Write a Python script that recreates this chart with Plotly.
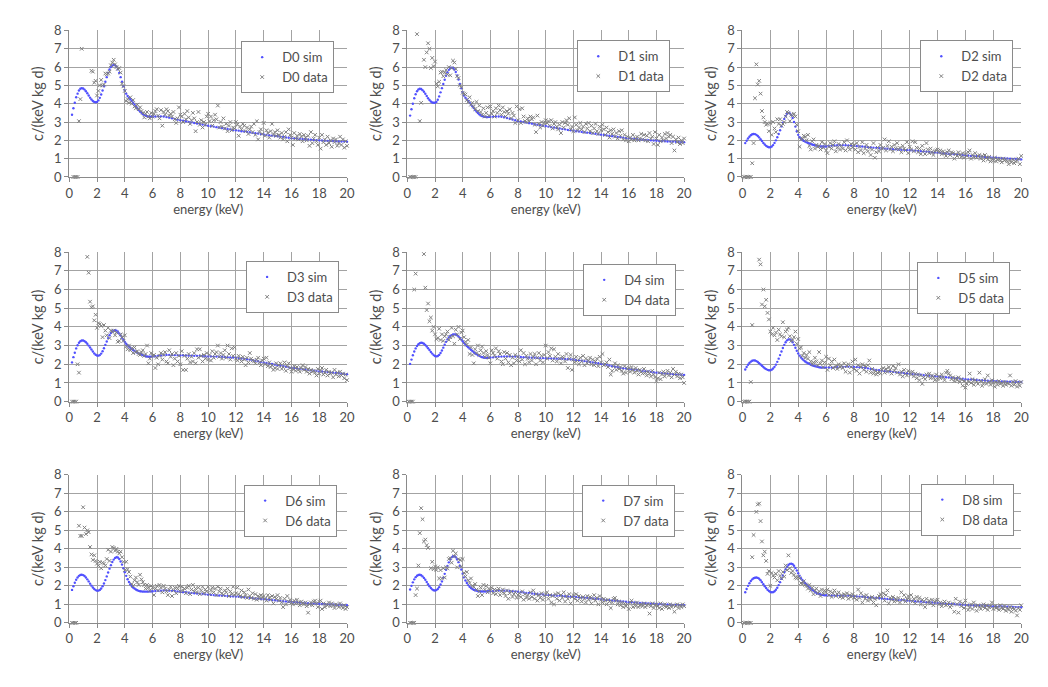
import plotly.graph_objects as go

# energy bins (keV)
E_SIM = [round(0.2 + 0.1 * i, 1) for i in range(59)] + [round(6.2 + 0.2 * i, 1) for i in range(70)]
E_DATA = [round(0.1 * (i + 1), 1) for i in range(200)]

DETECTORS = ["D0", "D1", "D2", "D3", "D4", "D5", "D6", "D7", "D8"]

N = None

SIM_D0 = [3.40,3.75,4.05,4.35,4.55,4.72,4.82,4.85,4.83,4.77,
          4.68,4.57,4.45,4.33,4.23,4.15,4.10,4.08,4.10,4.18,
          4.32,4.50,4.72,4.95,5.20,5.45,5.68,5.87,6.00,6.08,
          6.12,6.10,6.02,5.88,5.68,5.45,5.20,4.95,4.72,4.55,
          4.42,4.32,4.24,4.15,4.05,3.95,3.85,3.75,3.65,3.57,
          3.50,3.44,3.39,3.35,3.32,3.30,3.29,3.29,3.30,
          3.30,3.31,3.31,3.30,3.27,3.24,3.20,3.17,3.13,3.10,
          3.07,3.04,3.01,2.98,2.95,2.92,2.89,2.86,2.83,2.80,
          2.77,2.75,2.72,2.70,2.67,2.65,2.62,2.60,2.57,2.55,
          2.53,2.50,2.48,2.46,2.44,2.41,2.39,2.37,2.34,2.32,
          2.30,2.28,2.26,2.24,2.22,2.20,2.18,2.16,2.14,2.12,
          2.11,2.10,2.08,2.07,2.06,2.05,2.04,2.02,2.01,2.00,
          1.99,1.98,1.97,1.97,1.96,1.95,1.94,1.93,1.93,1.92]
SIM_D1 = [3.35,3.70,4.00,4.30,4.52,4.68,4.78,4.82,4.80,4.74,
          4.65,4.54,4.42,4.30,4.20,4.12,4.07,4.05,4.05,4.10,
          4.22,4.40,4.62,4.85,5.08,5.31,5.53,5.72,5.85,5.94,
          5.97,5.95,5.87,5.73,5.54,5.32,5.08,4.84,4.62,4.45,
          4.33,4.23,4.15,4.06,3.96,3.86,3.76,3.66,3.57,3.49,
          3.42,3.37,3.33,3.30,3.28,3.27,3.27,3.28,3.29,
          3.29,3.30,3.30,3.29,3.26,3.22,3.18,3.14,3.10,3.06,
          3.03,3.00,2.97,2.94,2.91,2.88,2.85,2.83,2.80,2.78,
          2.75,2.72,2.70,2.67,2.65,2.62,2.60,2.57,2.55,2.52,
          2.50,2.48,2.46,2.44,2.42,2.40,2.38,2.36,2.33,2.31,
          2.29,2.27,2.25,2.23,2.21,2.19,2.17,2.15,2.13,2.11,
          2.09,2.08,2.06,2.05,2.04,2.02,2.01,2.00,1.99,1.98,
          1.97,1.96,1.95,1.94,1.93,1.93,1.92,1.91,1.90,1.90]
SIM_D2 = [1.85,1.98,2.10,2.20,2.28,2.33,2.35,2.34,2.30,2.24,
          2.16,2.06,1.96,1.86,1.77,1.70,1.65,1.62,1.62,1.66,
          1.74,1.86,2.00,2.17,2.35,2.55,2.76,2.97,3.17,3.33,
          3.45,3.50,3.47,3.38,3.22,3.00,2.75,2.50,2.30,2.17,
          2.08,2.02,1.97,1.93,1.89,1.86,1.83,1.80,1.77,1.75,
          1.73,1.71,1.69,1.68,1.67,1.66,1.66,1.66,1.67,
          1.68,1.70,1.72,1.73,1.74,1.74,1.73,1.72,1.71,1.70,
          1.69,1.67,1.66,1.65,1.63,1.62,1.60,1.59,1.57,1.56,
          1.55,1.54,1.53,1.52,1.51,1.50,1.49,1.48,1.47,1.46,
          1.45,1.44,1.42,1.41,1.40,1.38,1.37,1.35,1.34,1.32,
          1.31,1.29,1.28,1.27,1.25,1.24,1.22,1.21,1.19,1.18,
          1.17,1.15,1.14,1.13,1.12,1.11,1.09,1.08,1.07,1.06,
          1.05,1.04,1.03,1.02,1.01,1.00,0.99,0.98,0.97,0.96]
SIM_D3 = [2.10,2.38,2.62,2.85,3.02,3.15,3.23,3.27,3.27,3.24,
          3.18,3.10,3.00,2.90,2.79,2.68,2.58,2.51,2.47,2.46,
          2.49,2.57,2.70,2.86,3.04,3.22,3.40,3.55,3.67,3.75,
          3.80,3.82,3.80,3.74,3.65,3.54,3.42,3.30,3.19,3.10,
          3.02,2.95,2.88,2.82,2.76,2.71,2.66,2.62,2.58,2.55,
          2.52,2.49,2.46,2.43,2.41,2.40,2.40,2.41,2.42,
          2.43,2.45,2.47,2.49,2.50,2.50,2.50,2.49,2.49,2.48,
          2.48,2.47,2.46,2.46,2.45,2.45,2.44,2.43,2.43,2.42,
          2.42,2.41,2.41,2.40,2.40,2.39,2.38,2.37,2.36,2.35,
          2.33,2.31,2.29,2.27,2.25,2.22,2.19,2.16,2.13,2.10,
          2.07,2.04,2.01,1.98,1.95,1.92,1.89,1.87,1.84,1.82,
          1.80,1.78,1.76,1.74,1.72,1.70,1.68,1.66,1.64,1.62,
          1.61,1.59,1.58,1.56,1.55,1.53,1.52,1.50,1.49,1.47]
SIM_D4 = [2.02,2.25,2.48,2.68,2.85,2.98,3.07,3.13,3.15,3.14,
          3.10,3.03,2.95,2.86,2.76,2.66,2.57,2.49,2.44,2.42,
          2.44,2.50,2.60,2.74,2.89,3.05,3.20,3.33,3.43,3.51,
          3.56,3.59,3.60,3.59,3.55,3.49,3.41,3.32,3.23,3.14,
          3.06,2.98,2.91,2.84,2.77,2.71,2.65,2.59,2.54,2.49,
          2.45,2.41,2.38,2.36,2.35,2.34,2.34,2.35,2.36,
          2.37,2.39,2.40,2.41,2.42,2.42,2.42,2.41,2.41,2.40,
          2.39,2.38,2.37,2.36,2.35,2.35,2.34,2.33,2.33,2.32,
          2.32,2.31,2.31,2.30,2.30,2.29,2.28,2.27,2.26,2.25,
          2.23,2.21,2.19,2.17,2.15,2.12,2.10,2.07,2.05,2.02,
          1.99,1.96,1.93,1.90,1.87,1.84,1.81,1.79,1.77,1.75,
          1.73,1.71,1.69,1.67,1.65,1.63,1.61,1.59,1.57,1.55,
          1.54,1.52,1.51,1.50,1.48,1.47,1.46,1.45,1.44,1.43]
SIM_D5 = [1.72,1.85,1.97,2.07,2.14,2.19,2.21,2.20,2.17,2.12,
          2.06,1.99,1.92,1.85,1.79,1.74,1.70,1.68,1.68,1.71,
          1.77,1.86,1.98,2.13,2.30,2.49,2.68,2.87,3.04,3.18,
          3.28,3.33,3.33,3.28,3.18,3.04,2.88,2.72,2.58,2.46,
          2.36,2.28,2.21,2.15,2.10,2.06,2.02,1.98,1.95,1.92,
          1.90,1.88,1.86,1.84,1.83,1.82,1.82,1.82,1.82,
          1.83,1.83,1.84,1.84,1.85,1.85,1.86,1.86,1.86,1.86,
          1.85,1.84,1.82,1.80,1.78,1.75,1.72,1.70,1.68,1.66,
          1.64,1.62,1.61,1.59,1.58,1.56,1.55,1.53,1.52,1.50,
          1.48,1.47,1.45,1.44,1.42,1.41,1.39,1.38,1.36,1.35,
          1.34,1.32,1.31,1.29,1.28,1.26,1.25,1.23,1.22,1.20,
          1.19,1.18,1.17,1.16,1.15,1.14,1.13,1.12,1.11,1.10,
          1.09,1.09,1.08,1.08,1.07,1.07,1.06,1.06,1.05,1.05]
SIM_D6 = [1.78,1.98,2.17,2.33,2.45,2.54,2.59,2.60,2.58,2.53,
          2.45,2.35,2.24,2.12,2.01,1.91,1.83,1.77,1.74,1.74,
          1.78,1.86,1.98,2.13,2.31,2.51,2.72,2.93,3.12,3.29,
          3.42,3.51,3.55,3.53,3.45,3.32,3.15,2.95,2.74,2.54,
          2.36,2.21,2.09,1.99,1.91,1.85,1.80,1.76,1.73,1.71,
          1.70,1.69,1.69,1.69,1.69,1.69,1.70,1.70,1.71,
          1.72,1.73,1.74,1.75,1.75,1.74,1.73,1.72,1.70,1.68,
          1.66,1.65,1.63,1.62,1.60,1.59,1.57,1.56,1.54,1.52,
          1.51,1.50,1.49,1.48,1.47,1.46,1.45,1.44,1.43,1.42,
          1.41,1.39,1.38,1.36,1.35,1.34,1.32,1.31,1.29,1.28,
          1.26,1.25,1.23,1.22,1.20,1.19,1.17,1.16,1.14,1.13,
          1.12,1.11,1.09,1.08,1.07,1.06,1.05,1.04,1.04,1.03,
          1.02,1.01,1.01,1.00,0.99,0.98,0.98,0.97,0.96,0.95]
SIM_D7 = [1.80,2.00,2.19,2.35,2.47,2.55,2.59,2.60,2.57,2.51,
          2.43,2.33,2.21,2.09,1.98,1.88,1.81,1.76,1.75,1.77,
          1.83,1.93,2.07,2.24,2.44,2.65,2.87,3.08,3.27,3.43,
          3.54,3.60,3.60,3.55,3.44,3.28,3.09,2.88,2.66,2.46,
          2.29,2.15,2.04,1.95,1.88,1.83,1.79,1.76,1.74,1.72,
          1.71,1.70,1.70,1.70,1.70,1.70,1.71,1.71,1.72,
          1.72,1.73,1.74,1.74,1.74,1.74,1.73,1.71,1.70,1.68,
          1.66,1.64,1.62,1.61,1.59,1.57,1.56,1.54,1.53,1.51,
          1.50,1.49,1.48,1.47,1.46,1.45,1.44,1.43,1.42,1.41,
          1.40,1.38,1.37,1.36,1.34,1.33,1.32,1.30,1.29,1.27,
          1.26,1.24,1.23,1.21,1.20,1.18,1.17,1.15,1.14,1.12,
          1.11,1.10,1.09,1.08,1.07,1.06,1.05,1.04,1.03,1.02,
          1.01,1.00,1.00,0.99,0.98,0.97,0.97,0.96,0.95,0.95]
SIM_D8 = [1.65,1.83,2.00,2.14,2.26,2.35,2.41,2.44,2.45,2.43,
          2.38,2.30,2.20,2.09,1.98,1.88,1.79,1.72,1.67,1.65,
          1.66,1.71,1.79,1.90,2.04,2.20,2.38,2.56,2.74,2.90,
          3.03,3.13,3.19,3.20,3.17,3.09,2.97,2.83,2.68,2.54,
          2.42,2.32,2.23,2.15,2.07,1.99,1.92,1.85,1.79,1.73,
          1.68,1.63,1.59,1.56,1.53,1.51,1.50,1.49,1.49,
          1.49,1.48,1.48,1.48,1.47,1.47,1.46,1.46,1.45,1.44,
          1.43,1.42,1.41,1.40,1.38,1.37,1.36,1.35,1.33,1.32,
          1.31,1.29,1.28,1.27,1.25,1.24,1.23,1.22,1.21,1.20,
          1.19,1.17,1.16,1.15,1.13,1.12,1.11,1.10,1.08,1.07,
          1.06,1.05,1.04,1.03,1.02,1.01,1.00,0.99,0.98,0.97,
          0.96,0.95,0.94,0.94,0.93,0.92,0.92,0.91,0.90,0.90,
          0.89,0.89,0.88,0.88,0.87,0.87,0.86,0.85,0.85,0.84]

DATA_D0 = [N,N,0,0,0,0,3.05,4.25,7.0,N,
           N,N,N,N,N,5.8,5.75,5.15,5.25,4.45,
           4.7,5.0,5.3,5.0,5.05,5.65,5.6,5.65,5.75,6.1,
           6.25,6.4,6.15,6.0,5.9,5.95,5.7,5.1,4.95,4.7,
           4.15,4.25,4.05,4.35,4.0,4.2,3.85,3.75,3.95,3.7,
           3.8,3.6,3.5,3.25,3.45,3.55,3.3,3.2,3.5,3.3,
           3.45,3.6,3.7,3.35,3.2,3.65,2.8,3.55,3.4,3.7,
           3.6,3.35,3.45,3.3,3.55,3.15,2.95,3.2,3.8,3.4,
           3.3,3.0,3.45,3.15,3.6,3.25,2.9,3.1,3.5,3.2,
           2.5,3.0,3.55,2.85,3.1,2.7,3.0,2.85,3.3,3.45,
           3.05,3.3,2.8,3.1,3.4,3.15,3.9,2.7,3.0,2.75,
           3.2,2.65,2.9,2.5,2.8,3.0,2.55,2.7,2.65,3.0,
           2.85,2.25,2.75,2.6,2.9,2.8,2.5,2.7,2.35,2.6,
           2.75,2.45,2.9,2.3,3.05,2.05,2.45,2.6,2.35,2.95,
           2.25,2.55,2.4,2.15,2.5,2.9,2.3,2.45,2.25,2.55,
           2.3,2.15,2.4,2.05,2.2,2.45,1.95,2.6,2.3,2.15,
           1.75,2.4,2.1,2.25,2.05,2.35,2.2,1.95,2.3,2.15,
           2.0,2.25,1.7,2.45,1.85,2.1,2.3,1.95,1.75,2.15,
           1.55,2.3,1.9,2.05,1.75,2.2,1.85,2.0,1.65,2.1,
           1.9,2.05,1.7,1.85,2.2,1.75,2.05,1.6,1.95,1.7]
DATA_D1 = [N,0,0,0,0,0,7.8,N,3.05,4.05,
           N,6.4,6.0,6.8,7.3,7.0,5.95,6.5,6.05,6.3,
           5.1,4.95,5.2,5.7,5.75,5.5,5.7,5.85,5.6,6.0,
           5.55,5.95,6.35,6.25,5.9,5.5,5.4,5.0,4.9,4.6,
           4.55,4.5,4.2,4.1,4.35,3.95,4.05,3.85,3.7,4.1,
           3.6,3.9,3.55,3.4,3.75,3.3,3.5,3.8,3.35,3.85,
           3.45,3.6,3.3,3.75,3.5,3.9,3.65,3.4,3.8,3.55,
           3.3,3.6,3.45,3.7,3.2,3.5,3.35,2.95,3.85,3.1,
           3.7,2.95,3.75,3.3,3.05,3.0,3.2,3.05,3.3,3.15,
           3.25,2.85,2.45,3.35,2.9,2.7,3.0,2.8,2.95,3.1,
           2.95,3.05,2.8,3.1,2.65,2.9,3.0,2.75,2.6,2.85,
           2.4,3.0,2.7,2.95,3.1,2.85,3.2,2.6,2.75,2.5,
           3.25,2.85,2.55,2.7,2.95,2.6,2.75,2.45,2.9,2.65,
           2.95,2.5,2.8,2.4,2.65,2.9,2.5,2.35,2.75,2.55,
           2.85,2.6,2.3,2.7,2.45,2.15,2.55,2.35,2.6,2.2,
           2.4,2.1,2.5,2.25,2.55,2.05,2.3,2.0,2.2,1.95,
           2.15,2.05,2.3,2.0,2.1,2.2,2.0,2.1,2.35,2.05,
           2.3,2.0,2.25,1.95,2.4,2.1,2.2,1.8,2.45,2.1,
           1.75,2.3,1.95,2.15,2.0,2.35,2.1,2.4,2.2,2.3,
           1.85,2.2,1.45,2.05,1.9,2.15,1.8,2.0,1.85,2.1]
DATA_D2 = [0,0,0,0,0,0,0.75,1.85,4.3,6.15,
           5.05,5.25,4.55,3.6,3.25,3.0,2.85,2.9,2.5,2.95,
           2.3,3.0,2.65,2.45,3.15,2.9,3.15,2.8,2.9,3.0,
           3.3,3.55,3.5,3.05,3.4,3.35,3.45,3.3,2.85,2.5,
           1.65,2.05,2.1,2.25,2.2,2.0,2.3,1.7,1.5,1.95,
           2.05,1.55,1.75,1.65,1.7,1.5,1.9,1.6,1.8,1.45,
           1.3,1.65,1.85,1.55,1.75,1.95,1.4,1.6,1.8,1.5,
           1.7,1.55,1.9,1.45,2.0,1.65,1.5,1.8,1.6,1.75,
           1.5,1.85,1.35,1.65,1.45,1.9,1.3,1.55,1.75,1.4,
           1.6,1.2,1.5,1.85,1.05,1.35,1.6,1.4,1.75,1.55,
           1.6,2.05,1.45,1.7,1.95,1.5,1.65,1.4,1.75,1.55,
           1.85,1.5,1.6,1.35,1.7,1.55,1.45,1.9,1.3,1.65,
           1.5,1.95,1.4,1.9,1.6,1.35,1.55,1.25,1.7,1.45,
           1.25,1.85,1.5,1.3,1.55,1.35,1.2,1.4,1.45,1.5,
           1.35,1.45,1.25,1.4,1.3,1.15,1.35,1.45,1.2,1.35,
           1.3,1.0,1.25,1.15,1.35,1.2,1.1,1.3,1.05,1.25,
           1.15,1.35,1.45,1.0,1.2,1.1,1.3,1.05,1.15,1.2,
           1.0,1.15,0.9,1.2,1.05,0.95,1.1,0.85,1.0,0.9,
           1.05,0.85,0.95,1.0,0.9,0.8,1.0,0.9,0.95,0.85,
           0.7,0.9,0.8,0.95,0.75,0.85,0.9,1.0,0.7,1.15]
DATA_D3 = [N,0,0,0,0,2.0,1.55,N,N,N,
           N,N,7.75,6.9,5.35,5.05,5.1,4.35,4.65,3.95,
           4.2,4.15,4.05,3.45,4.1,3.8,3.55,3.95,3.4,3.8,
           3.75,3.8,3.55,3.7,3.2,3.25,3.6,3.45,3.25,3.55,
           2.95,2.8,3.0,2.75,2.85,2.6,2.9,2.65,2.7,2.55,
           2.5,2.65,2.75,2.45,2.55,3.0,2.05,2.3,2.6,2.45,
           2.5,1.8,2.35,2.0,2.45,2.6,2.25,2.5,2.65,2.15,
           2.05,2.75,2.4,2.55,1.95,2.3,2.6,2.15,2.45,2.0,
           2.7,1.7,2.45,1.7,2.3,2.55,2.1,2.4,2.15,2.6,
           2.05,2.8,2.35,2.8,2.45,2.15,2.5,2.3,2.6,2.25,
           2.5,2.2,2.7,2.35,2.55,2.65,3.0,2.4,2.6,2.3,
           2.5,2.75,2.35,3.0,2.55,2.25,2.85,2.45,2.9,2.3,
           2.2,2.45,2.3,2.15,2.4,2.25,1.95,2.35,2.1,2.6,
           2.3,2.2,2.15,2.05,2.25,2.35,2.1,1.95,2.2,2.3,
           2.0,2.35,1.9,2.1,1.85,1.95,1.7,1.8,2.05,1.75,
           1.95,2.05,1.75,1.85,2.1,1.65,1.9,2.05,1.8,1.6,
           1.75,1.9,1.65,1.85,1.7,1.6,1.8,1.95,1.7,1.85,
           1.6,1.75,1.5,1.7,1.6,1.65,1.55,1.4,1.75,1.5,
           1.65,1.8,1.45,1.55,1.7,1.4,1.6,1.5,1.55,1.3,
           1.7,1.45,1.55,1.35,1.6,1.4,1.5,1.25,1.45,1.15]
DATA_D4 = [0,0,0,0,6.0,6.85,N,N,N,N,
           N,7.9,6.1,4.9,5.25,4.3,4.5,3.8,4.0,3.6,
           3.35,3.4,3.9,3.3,3.6,3.25,3.5,3.6,3.75,3.3,
           3.45,3.95,3.5,3.1,3.85,3.6,4.0,3.35,3.7,3.8,
           3.45,3.2,3.05,3.3,2.55,2.9,2.5,2.05,2.8,2.6,
           3.0,2.5,2.75,2.95,2.6,2.4,2.7,2.5,2.35,2.05,
           2.75,2.6,2.45,2.85,2.3,2.7,2.55,2.15,2.0,2.65,
           2.3,2.6,2.1,2.5,1.95,2.35,2.05,2.5,2.2,2.4,
           2.15,2.75,2.25,2.6,2.0,2.45,2.3,2.1,2.55,2.2,
           2.4,2.55,2.0,2.35,2.6,2.2,2.45,2.1,2.5,3.0,
           2.3,2.65,2.45,2.85,2.2,2.8,2.4,2.15,2.55,2.3,
           2.05,2.4,2.35,2.15,2.55,1.8,2.3,2.5,1.7,2.25,
           2.1,2.4,2.2,2.0,2.35,2.15,2.45,1.95,2.3,2.05,
           2.2,2.35,2.0,2.25,1.95,2.15,2.3,1.9,2.4,2.1,
           2.55,1.95,2.0,2.1,1.85,2.25,1.45,1.65,1.9,2.05,
           1.7,1.95,1.75,1.85,1.65,1.5,1.9,1.55,1.75,1.8,
           1.6,1.85,1.7,1.55,1.8,1.65,1.45,1.7,1.6,1.5,
           1.75,1.55,1.4,1.6,1.5,1.35,1.65,1.45,1.3,1.1,
           1.25,1.55,1.2,1.45,1.6,1.35,1.5,1.65,1.4,1.55,
           1.3,1.75,1.45,1.6,1.35,1.5,1.25,1.45,1.3,1.0]
DATA_D5 = [0,0,0,0,0,1.05,4.1,N,N,N,
           N,7.6,7.35,5.2,6.0,5.1,5.45,4.75,4.4,3.75,
           3.6,3.95,3.55,3.7,3.3,3.85,3.6,3.5,4.25,3.45,
           3.75,3.85,3.95,3.5,3.25,3.3,3.45,3.75,3.1,3.35,
           2.85,2.9,2.45,2.6,2.35,2.5,2.3,2.65,2.15,2.0,
           2.1,2.35,2.15,1.95,2.65,2.05,2.2,1.85,2.1,2.4,
           1.7,2.3,1.95,2.15,1.8,2.25,1.9,1.75,2.0,1.85,
           1.95,1.8,2.05,1.6,1.9,2.0,1.55,1.85,2.15,1.75,
           2.25,1.65,1.95,1.5,1.85,2.0,1.7,1.9,1.6,1.95,
           2.2,1.55,1.75,1.5,1.65,1.45,1.55,1.6,1.5,1.7,
           1.8,1.55,1.75,1.6,1.85,1.7,1.5,1.9,1.65,1.8,
           1.55,2.0,1.45,1.6,1.35,1.7,1.5,1.4,1.65,1.55,
           1.45,1.6,1.35,1.5,1.25,1.45,1.15,1.4,0.95,1.3,
           1.2,1.45,1.35,1.5,1.25,1.4,1.3,1.15,1.45,1.2,
           1.35,1.25,1.45,1.3,1.15,1.55,1.65,1.5,1.4,1.2,
           1.3,1.1,1.25,1.15,1.3,1.05,1.2,0.85,1.1,0.75,
           0.95,1.1,1.5,1.0,1.2,0.9,1.15,1.05,0.95,1.55,
           1.1,0.85,1.0,1.2,0.95,1.4,1.05,0.9,1.15,1.0,
           0.8,1.05,0.9,1.1,0.95,1.0,0.85,1.05,0.9,1.0,
           0.95,1.4,0.85,1.05,0.9,1.1,0.8,1.0,0.85,1.05]
DATA_D6 = [N,0,0,0,0,N,5.25,4.7,4.7,6.25,
           5.15,4.8,5.0,4.9,4.1,3.7,3.4,3.65,3.35,3.2,
           3.1,3.3,2.95,3.25,3.2,3.1,3.45,3.95,3.35,3.85,
           4.1,4.05,3.9,4.0,3.85,3.75,3.85,3.55,3.3,2.85,
           3.3,2.9,2.75,2.5,2.1,2.0,2.3,2.45,2.2,2.05,
           2.6,2.35,2.2,2.05,1.85,2.05,1.9,1.75,2.0,1.9,
           1.5,1.85,2.0,1.75,2.05,1.9,1.65,2.0,1.85,1.7,
           1.5,1.8,1.95,1.45,1.75,1.9,1.6,1.85,2.0,1.7,
           1.95,1.75,1.85,1.6,1.9,2.0,1.55,1.8,2.05,1.7,
           1.85,1.65,1.9,1.55,1.75,1.95,1.6,1.8,1.7,1.95,
           1.55,1.75,1.9,1.65,1.85,1.5,1.95,1.7,1.85,1.6,
           1.5,1.75,1.65,1.85,1.45,1.7,1.55,1.95,1.5,1.6,
           1.9,1.55,1.45,1.75,1.4,1.65,1.5,1.35,1.8,1.45,
           1.35,1.6,1.3,1.55,1.25,1.45,1.3,1.5,1.35,1.45,
           1.3,1.2,1.5,1.35,1.25,1.45,1.05,1.4,1.3,1.5,
           1.2,1.35,1.1,0.85,1.3,1.0,1.45,1.15,1.25,1.1,
           1.0,1.2,1.05,1.25,1.1,0.95,1.15,1.05,1.0,1.1,
           0.9,0.55,1.0,1.1,0.95,1.15,1.2,1.05,0.85,1.15,
           1.2,0.75,1.05,0.85,1.0,0.95,1.1,0.9,1.05,0.95,
           0.8,1.0,0.95,0.85,1.05,0.9,0.8,0.95,0.75,0.85]
DATA_D7 = [N,0,0,0,0,1.5,1.85,3.1,4.85,6.2,
           5.6,4.4,4.5,4.2,4.05,N,2.95,3.3,2.9,3.05,
           2.85,3.0,2.4,2.85,2.4,2.95,2.45,3.0,2.95,3.45,
           3.5,3.25,3.9,3.6,3.75,3.0,3.45,3.4,3.05,3.45,
           2.7,2.5,2.75,2.3,2.15,2.4,2.0,1.95,2.1,1.8,
           1.45,1.7,1.9,1.5,2.05,1.8,2.0,1.65,1.85,1.75,
           1.9,1.6,1.8,1.55,1.75,1.85,1.5,1.7,1.8,1.6,
           1.45,1.75,1.3,1.6,1.7,1.4,1.55,1.65,1.35,1.5,
           1.6,1.4,1.7,1.25,1.55,1.35,1.5,1.3,1.65,1.4,
           1.75,1.3,1.55,1.2,1.5,1.35,1.6,1.25,1.45,1.55,
           1.65,1.3,1.5,1.1,1.45,1.0,1.55,1.3,1.6,1.2,
           1.5,1.35,1.65,1.15,1.45,1.3,1.55,1.05,1.4,1.5,
           1.3,1.55,1.2,1.45,1.35,1.15,1.4,1.3,1.1,1.45,
           1.25,1.4,1.05,1.3,1.5,1.2,1.35,1.0,1.45,1.25,
           1.1,1.3,1.2,1.0,1.25,1.15,0.8,1.1,1.3,1.35,
           1.2,1.0,1.15,0.95,1.1,0.85,1.05,0.9,1.0,0.75,
           1.1,1.2,0.85,1.05,0.9,1.1,0.85,0.95,1.0,0.9,
           1.05,0.85,0.95,1.0,0.5,0.9,1.05,0.8,0.95,1.0,
           0.9,0.8,1.05,0.75,0.95,1.0,0.85,0.9,0.8,1.0,
           0.85,0.95,0.6,0.9,1.0,0.8,0.95,0.85,1.0,0.9]
DATA_D8 = [0,0,0,0,0,0,3.55,4.75,N,6.0,
           6.4,6.45,5.5,4.4,3.65,3.85,3.35,2.65,2.8,2.0,
           2.7,2.55,2.45,2.65,2.3,2.8,2.55,2.4,2.75,2.5,
           3.1,2.85,3.65,2.95,2.7,2.8,2.6,2.45,2.4,2.5,
           2.4,2.15,2.1,2.25,2.05,2.0,1.85,2.05,1.75,1.9,
           1.55,1.75,1.85,1.6,1.7,1.45,1.8,1.6,1.75,1.65,
           1.8,1.5,1.7,1.4,1.6,1.75,1.45,1.55,1.65,1.4,
           1.5,1.35,1.55,1.45,1.6,1.3,1.5,1.4,1.55,1.35,
           1.45,1.25,1.8,1.35,1.6,1.1,1.45,1.3,1.5,1.2,
           1.35,1.25,1.4,1.1,1.3,0.95,1.35,1.45,1.55,1.4,
           1.6,1.2,1.5,1.75,1.05,1.35,1.25,1.4,1.15,1.3,
           1.2,1.35,1.1,1.65,1.25,1.5,1.15,1.3,1.45,1.25,
           1.5,1.15,1.3,1.05,1.4,1.2,1.35,1.0,1.25,1.15,
           0.85,1.3,1.1,1.2,1.05,1.25,0.95,1.15,1.2,1.25,
           1.0,1.1,0.9,1.05,1.15,0.95,1.0,1.1,0.85,0.95,
           1.05,0.6,1.3,1.0,0.55,1.15,0.9,1.05,0.8,1.2,
           0.95,0.7,0.85,1.0,0.75,1.1,0.9,0.65,0.95,0.85,
           0.75,0.9,1.0,0.8,0.95,0.7,0.85,0.9,1.1,0.75,
           0.9,0.8,0.85,0.7,0.95,0.8,0.75,0.9,0.65,0.8,
           0.7,0.85,0.6,0.8,0.75,0.65,0.4,0.8,0.7,0.95]

SIM = [SIM_D0, SIM_D1, SIM_D2, SIM_D3, SIM_D4, SIM_D5, SIM_D6, SIM_D7, SIM_D8]
DATA = [DATA_D0, DATA_D1, DATA_D2, DATA_D3, DATA_D4, DATA_D5, DATA_D6, DATA_D7, DATA_D8]

for name, s, d in zip(DETECTORS, SIM, DATA):
    if len(s) != len(E_SIM) or len(d) != len(E_DATA):
        raise ValueError(f"{name}: sim {len(s)}/{len(E_SIM)} data {len(d)}/{len(E_DATA)}")

W, H = 1048, 687
COLS_PX = [(66, 347), (408, 688), (747, 1029)]
ROWS_PX = [(23, 173), (250, 403), (478, 629.5)]
LEGEND_PX = [(334, 34), (674, 33), (1021, 33),
             (339, 259), (680, 262), (1018, 260),
             (337, 488), (679, 488), (1022, 487)]

FONT = "Lato, 'Open Sans', sans-serif"
TXT = "#4d4d4d"
GRID = "#a3a3a3"
AXL = "#8a8a8a"

fig = go.Figure()
layout = dict(width=W, height=H, margin=dict(l=0, r=0, t=0, b=0),
              paper_bgcolor="white", plot_bgcolor="white",
              font=dict(family=FONT, size=13, color=TXT), showlegend=True)

for i, name in enumerate(DETECTORS):
    r, c = divmod(i, 3)
    k = "" if i == 0 else str(i + 1)
    leg = "legend" if i == 0 else f"legend{i + 1}"
    fig.add_trace(go.Scatter(x=E_SIM, y=SIM[i], mode="markers", name=f"{name} sim",
                             marker=dict(size=2.4, color="#5050ff", symbol="circle"),
                             xaxis="x" + k, yaxis="y" + k, legend=leg, cliponaxis=False))
    fig.add_trace(go.Scatter(x=E_DATA, y=DATA[i], mode="markers", name=f"{name} data",
                             marker=dict(size=3.6, color="#808080", symbol="x-thin",
                                         line=dict(width=1, color="#808080")),
                             xaxis="x" + k, yaxis="y" + k, legend=leg, cliponaxis=False))
    x0, x1 = COLS_PX[c]
    yt, yb = ROWS_PX[r]
    common = dict(showgrid=True, gridcolor=GRID, gridwidth=1, showline=True, linecolor=AXL,
                  linewidth=1, ticks="outside", ticklen=4, tickcolor=AXL, zeroline=False,
                  tickfont=dict(family=FONT, size=13, color=TXT), fixedrange=True)
    layout["xaxis" + k] = dict(domain=[x0 / W, x1 / W], range=[0, 20], dtick=2, tick0=0,
                               anchor="y" + k,
                               title=dict(text="energy (keV)", font=dict(size=13, color=TXT), standoff=4),
                               **common)
    layout["yaxis" + k] = dict(domain=[1 - yb / H, 1 - yt / H], range=[0, 8], dtick=1, tick0=0,
                               anchor="x" + k,
                               title=dict(text="c/(keV kg d)", font=dict(size=14.5, color=TXT), standoff=7),
                               **common)
    lx, ly = LEGEND_PX[i]
    layout[leg] = dict(x=lx / W, y=1 - ly / H, xanchor="right", yanchor="top",
                       xref="paper", yref="paper",
                       bgcolor="white", bordercolor="#8a8a8a", borderwidth=1,
                       font=dict(family=FONT, size=13, color=TXT),
                       itemwidth=30, tracegroupgap=0)

fig.update_layout(**layout)
fig.write_html("out.html")
